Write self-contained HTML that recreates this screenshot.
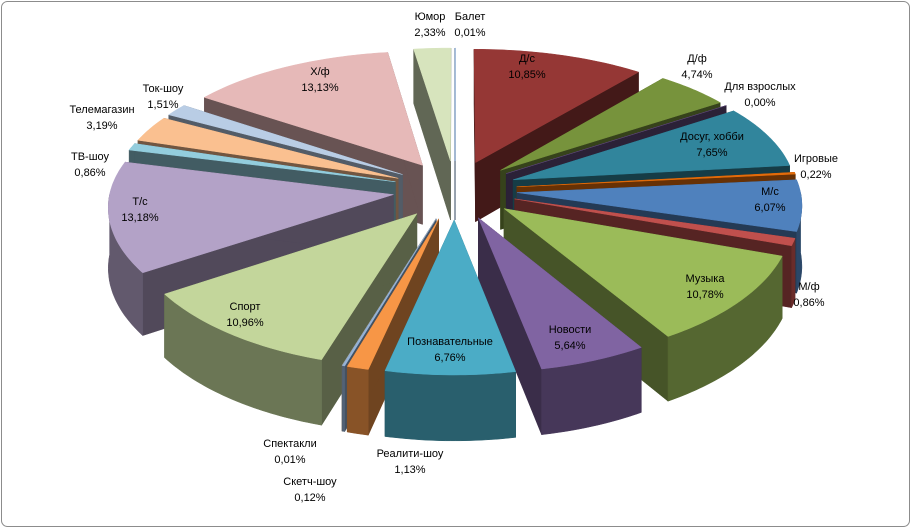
<!DOCTYPE html>
<html><head><meta charset="utf-8">
<style>
html,body{margin:0;padding:0;background:#fff;}
#wrap{position:relative;width:911px;height:528px;}
svg{position:absolute;left:0;top:0;}
text{font-family:"Liberation Sans","DejaVu Sans",sans-serif;font-size:11px;fill:#000;}
</style></head>
<body>
<div id="wrap">
<svg id="chart" width="911" height="528">
<rect x="1.5" y="1.5" width="908" height="525" rx="6" fill="#fff" stroke="#8c8c8c"/>
</svg>
</div>
<script>
const categories=["Балет","Д/с","Д/ф","Для взрослых","Досуг, хобби","Игровые","М/с","М/ф","Музыка","Новости","Познавательные","Реалити-шоу","Скетч-шоу","Спектакли","Спорт","Т/с","ТВ-шоу","Телемагазин","Ток-шоу","Х/ф","Юмор"];
const values=[0.01,10.85,4.74,0.00,7.65,0.22,6.07,0.86,10.78,5.64,6.76,1.13,0.12,0.01,10.96,13.18,0.86,3.19,1.51,13.13,2.33];
const valueLabels=["0,01%","10,85%","4,74%","0,00%","7,65%","0,22%","6,07%","0,86%","10,78%","5,64%","6,76%","1,13%","0,12%","0,01%","10,96%","13,18%","0,86%","3,19%","1,51%","13,13%","2,33%"];
const colors=["#4F81BD","#953735","#77933C","#604A7B","#31859C","#E46C0A","#4F81BD","#C0504D","#9BBB59","#8064A2","#4BACC6","#F79646","#95B3D7","#B7B7B7","#C3D69B","#B3A2C7","#93CDDD","#FAC090","#B9CDE5","#E6B9B8","#D7E4BD"];
const labelPos=[[470,20],[527,62],[697,62],[760,90],[712,140],[816,162],[770,195],[809,290],[705,282],[570,333],[450,345],[410,457],[310,485],[290,447],[245,310],[140,205],[90,160],[102,113],[163,92],[320,75],[430,20]];
const cx=455,W=283,pk=0.08,ex=0.22,depth=60;
function gy(Z){return 189.8+134*Z+14.58*Z*Z;}
function proj(X,Z,dz){return [cx+X*W*(1+pk*Z), gy(Z)+dz*(1+0.08*Z)];}
const svg=document.getElementById('chart');
const NS='http://www.w3.org/2000/svg';
function shade(h,f){const n=parseInt(h.slice(1),16);let r=(n>>16)&255,g=(n>>8)&255,b=n&255;return `rgb(${Math.round(r*f)},${Math.round(g*f)},${Math.round(b*f)})`;}
const total=values.reduce((a,b)=>a+b,0);
let acc=0;const slices=[];
values.forEach((v,i)=>{const a0=acc/total*2*Math.PI;acc+=v;const a1=acc/total*2*Math.PI;const m=(a0+a1)/2;
 slices.push({i,a0,a1,m,ox:ex*Math.sin(m),oz:-ex*Math.cos(m)});});
function rim(s,t,dz){return proj(s.ox+Math.sin(t),s.oz-Math.cos(t),dz);}
function apex(s,dz){return proj(s.ox,s.oz,dz);}
const order=slices.slice().sort((a,b)=>(-Math.cos(a.m))-(-Math.cos(b.m)));
function poly(pts,fill,name){const p=document.createElementNS(NS,'path');
 p.setAttribute('d','M'+pts.map(q=>q[0].toFixed(1)+','+q[1].toFixed(1)).join('L')+'Z');
 p.setAttribute('fill',fill);p.setAttribute('stroke',fill);p.setAttribute('stroke-width','0.5');
 
 
 svg.appendChild(p);}
order.forEach(s=>{
 const c=colors[s.i];const side=shade(c,0.45);const wall=shade(c,0.55);
 const slug='slice-'+s.i;
 [s.a0,s.a1].forEach(a=>{
   poly([apex(s,0),rim(s,a,0),rim(s,a,depth),apex(s,depth)],side,slug+'-cut-wall');});
 const w0=Math.max(s.a0,Math.PI/2),w1=Math.min(s.a1,1.5*Math.PI);
 if(w1>w0){const top=[],bot=[];const n=Math.max(4,Math.ceil((w1-w0)*60));
   for(let k=0;k<=n;k++){const t=w0+(w1-w0)*k/n;top.push(rim(s,t,0));bot.unshift(rim(s,t,depth));}
   poly(top.concat(bot),wall,slug+'-outer-wall');}
 const pts=[apex(s,0)];const n=Math.max(2,Math.ceil((s.a1-s.a0)*60));
 for(let k=0;k<=n;k++){pts.push(rim(s,s.a0+(s.a1-s.a0)*k/n,0));}
 poly(pts,c,slug+'-top');
});
categories.forEach((name,i)=>{
 const t=document.createElementNS(NS,'text');
 t.setAttribute('x',labelPos[i][0]);t.setAttribute('y',labelPos[i][1]);t.setAttribute('text-anchor','middle');
 
 
 const a=document.createElementNS(NS,'tspan');a.setAttribute('x',labelPos[i][0]);a.textContent=name;
 const b=document.createElementNS(NS,'tspan');b.setAttribute('x',labelPos[i][0]);b.setAttribute('dy','16');b.textContent=valueLabels[i];
 t.appendChild(a);t.appendChild(b);svg.appendChild(t);
});
</script>
</body></html>
